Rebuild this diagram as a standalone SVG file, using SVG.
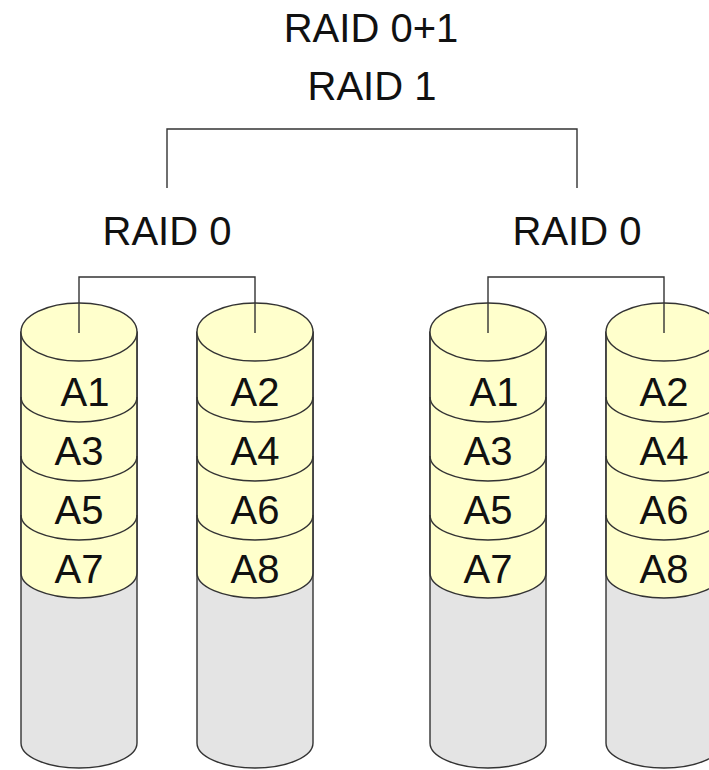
<svg xmlns="http://www.w3.org/2000/svg" width="709" height="770" viewBox="0 0 709 770">
<style>
  .t { font-family: "Liberation Sans", Arial, sans-serif; font-size: 40px; fill: #111; }
  .c { text-anchor: middle; }
  .ln { fill: none; stroke: #333; stroke-width: 1.4; }
  .body { fill: #E4E4E4; stroke: #333; stroke-width: 1.4; }
  .data { fill: #FFFFCC; stroke: none; }
  .band { fill: none; stroke: #333; stroke-width: 1.4; }
  .top { fill: #FFFFCC; stroke: #333; stroke-width: 1.4; }
</style>
<defs>
  <g id="cyl">
    <path class="body" d="M -58 332 L -58 743 A 58 25 0 0 0 58 743 L 58 332 Z"/>
    <path class="data" d="M -57.3 332 L -57.3 573 A 57.3 25 0 0 0 57.3 573 L 57.3 332 Z"/>
    <path class="ln" d="M -58 332 L -58 573 M 58 332 L 58 573"/>
    <path class="band" d="M -58 397 A 58 25 0 0 0 58 397"/>
    <path class="band" d="M -58 456 A 58 25 0 0 0 58 456"/>
    <path class="band" d="M -58 515 A 58 25 0 0 0 58 515"/>
    <path class="band" d="M -58 573 A 58 25 0 0 0 58 573"/>
    <ellipse class="top" cx="0" cy="332" rx="58" ry="29"/>
  </g>
</defs>
<rect width="709" height="770" fill="#FFFFFF"/>
<g id="title">
  <text class="t c" x="371" y="42">RAID 0+1</text>
</g>
<g id="raid1">
  <text class="t c" x="372" y="100">RAID 1</text>
</g>
<g id="raid0-left">
  <text class="t c" x="167" y="245">RAID 0</text>
</g>
<g id="raid0-right">
  <text class="t c" x="577" y="245">RAID 0</text>
</g>
<g id="disk1">
  <use href="#cyl" transform="translate(79,0)"/>
  <text class="t c" x="85" y="406">A1</text>
  <text class="t c" x="79" y="465">A3</text>
  <text class="t c" x="79" y="524">A5</text>
  <text class="t c" x="79" y="583">A7</text>
</g>
<g id="disk2">
  <use href="#cyl" transform="translate(255,0)"/>
  <text class="t c" x="255" y="406">A2</text>
  <text class="t c" x="255" y="465">A4</text>
  <text class="t c" x="255" y="524">A6</text>
  <text class="t c" x="255" y="583">A8</text>
</g>
<g id="disk3">
  <use href="#cyl" transform="translate(488,0)"/>
  <text class="t c" x="494" y="406">A1</text>
  <text class="t c" x="488" y="465">A3</text>
  <text class="t c" x="488" y="524">A5</text>
  <text class="t c" x="488" y="583">A7</text>
</g>
<g id="disk4">
  <use href="#cyl" transform="translate(664,0)"/>
  <text class="t c" x="664" y="406">A2</text>
  <text class="t c" x="664" y="465">A4</text>
  <text class="t c" x="664" y="524">A6</text>
  <text class="t c" x="664" y="583">A8</text>
</g>
<g id="connectors">
  <path class="ln" d="M 167 188 L 167 129 L 577 129 L 577 188"/>
  <path class="ln" d="M 79 333 L 79 277 L 255 277 L 255 333"/>
  <path class="ln" d="M 488 333 L 488 277 L 664 277 L 664 333"/>
</g>
</svg>
